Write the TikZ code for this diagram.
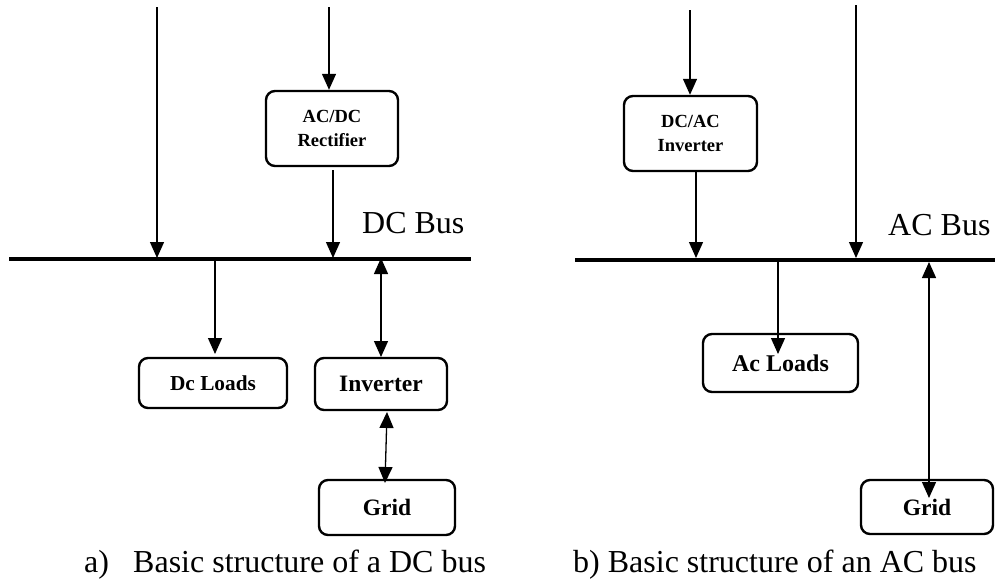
\documentclass[tikz,border=0pt]{standalone}
\usepackage{fontspec}
\setmainfont{Liberation Serif}
\usetikzlibrary{arrows.meta}
\begin{document}
\begin{tikzpicture}[x=1pt,y=-1pt,
  box/.style={draw,line width=2.4pt,rounded corners=9pt,inner sep=0pt,align=center,font=\bfseries},
  arr/.style={line width=1.3pt,-{Triangle[length=16pt,width=14pt]}},
  biarr/.style={line width=1.3pt,{Triangle[length=16pt,width=14pt]}-{Triangle[length=16pt,width=14pt]}},
  bus/.style={line width=3.8pt},
  lbl/.style={anchor=base west,inner sep=0pt,font=\fontsize{32}{34}\selectfont}]
\useasboundingbox (0,0) rectangle (995,581);
% ---------- DC bus (left) ----------
\coordinate (dcL) at (9,259);
\coordinate (dcR) at (471,259);
\draw[bus] (dcL) -- (dcR);
\node[box,minimum width=132pt,minimum height=75pt,font=\fontsize{18.5}{24}\selectfont\bfseries] (rect) at (332,128.5) {AC/DC\\Rectifier};
\node[box,minimum width=148pt,minimum height=50pt,font=\fontsize{21.3}{23}\selectfont\bfseries] (dcload) at (213,383) {Dc Loads};
\node[box,minimum width=132pt,minimum height=52pt,font=\fontsize{23.5}{25}\selectfont\bfseries] (inv) at (381,384) {Inverter};
\node[box,minimum width=136pt,minimum height=55pt,font=\fontsize{23.5}{25}\selectfont\bfseries] (gridL) at (387,507.5) {Grid};
\coordinate (s1) at (157,7);
\coordinate (b1) at (157,258);
\coordinate (s2) at (329,7);
\coordinate (r2) at (333,170);
\coordinate (b2) at (333,258);
\coordinate (b3) at (215,260);
\coordinate (l3) at (215,354);
\coordinate (b4) at (381,258);
\coordinate (i4) at (381,357);
\coordinate (i5) at (387,412);
\coordinate (g5) at (385,483);
\draw[arr] (s1) -- (b1);
\draw[arr] (s2) -- (s2 |- rect.north);
\draw[arr] (r2) -- (b2);
\draw[arr] (b3) -- (l3);
\draw[biarr] (b4) -- (i4);
\draw[biarr] (i5) -- (g5);
\node[lbl] (dclbl) at (362,233) {DC Bus};
\node[lbl] (capa) at (84,572) {a)};
\node[lbl] (capa2) at (133,572) {Basic structure of a DC bus};
% ---------- AC bus (right) ----------
\coordinate (acL) at (575,260);
\coordinate (acR) at (995,260);
\draw[bus] (acL) -- (acR);
\node[box,minimum width=133pt,minimum height=75pt,font=\fontsize{18.5}{24}\selectfont\bfseries] (dcac) at (690.5,133.5) {DC/AC\\Inverter};
\node[box,minimum width=155pt,minimum height=58pt,font=\fontsize{24}{26}\selectfont\bfseries] (acload) at (780.5,363) {Ac Loads};
\node[box,minimum width=132pt,minimum height=54pt,font=\fontsize{23.5}{25}\selectfont\bfseries] (gridR) at (927,507) {Grid};
\coordinate (t1) at (690,10);
\coordinate (d1) at (696,171);
\coordinate (a1) at (696,258);
\coordinate (t2) at (856,5);
\coordinate (a2) at (856,258);
\coordinate (a3) at (778,262);
\coordinate (l4) at (778,354);
\coordinate (a4) at (929,262);
\coordinate (g4) at (929,498);
\draw[arr] (t1) -- (t1 |- dcac.north);
\draw[arr] (d1) -- (a1);
\draw[arr] (t2) -- (a2);
\draw[arr] (a3) -- (l4);
\draw[biarr] (a4) -- (g4);
\node[lbl] (aclbl) at (888,235) {AC Bus};
\node[lbl] (capb) at (573,572) {b) Basic structure of an AC bus};
\end{tikzpicture}
\end{document}
